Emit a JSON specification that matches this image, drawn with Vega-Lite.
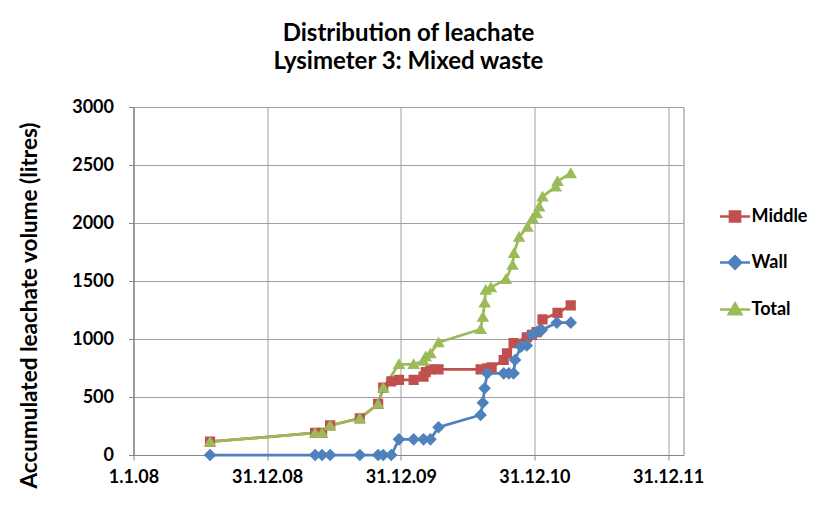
{
  "$schema": "https://vega.github.io/schema/vega-lite/v6.json",
  "width": 550,
  "height": 348,
  "autosize": {"type": "none"},
  "padding": {"left": 133.5, "top": 107, "right": 149.5, "bottom": 53},
  "background": "white",
  "title": {
    "text": ["Distribution of leachate", "Lysimeter 3: Mixed waste"],
    "font": "Lato",
    "fontSize": 24,
    "fontWeight": "bold",
    "color": "#000000",
    "anchor": "middle",
    "frame": "group",
    "lineHeight": 28,
    "offset": 24
  },
  "data": {
    "values": [
      {"date": "2008-07-28", "series": "Middle", "value": 115},
      {"date": "2009-05-11", "series": "Middle", "value": 190},
      {"date": "2009-05-30", "series": "Middle", "value": 190},
      {"date": "2009-06-21", "series": "Middle", "value": 255},
      {"date": "2009-09-10", "series": "Middle", "value": 316},
      {"date": "2009-10-30", "series": "Middle", "value": 440},
      {"date": "2009-11-13", "series": "Middle", "value": 580},
      {"date": "2009-12-05", "series": "Middle", "value": 635},
      {"date": "2009-12-26", "series": "Middle", "value": 647},
      {"date": "2010-02-04", "series": "Middle", "value": 647},
      {"date": "2010-03-03", "series": "Middle", "value": 675},
      {"date": "2010-03-09", "series": "Middle", "value": 715},
      {"date": "2010-03-22", "series": "Middle", "value": 739},
      {"date": "2010-04-13", "series": "Middle", "value": 739},
      {"date": "2010-08-06", "series": "Middle", "value": 739},
      {"date": "2010-08-24", "series": "Middle", "value": 747},
      {"date": "2010-09-05", "series": "Middle", "value": 755},
      {"date": "2010-10-08", "series": "Middle", "value": 819},
      {"date": "2010-10-17", "series": "Middle", "value": 876},
      {"date": "2010-11-04", "series": "Middle", "value": 965},
      {"date": "2010-12-10", "series": "Middle", "value": 1015},
      {"date": "2010-12-24", "series": "Middle", "value": 1035},
      {"date": "2011-01-06", "series": "Middle", "value": 1060},
      {"date": "2011-01-22", "series": "Middle", "value": 1170},
      {"date": "2011-03-04", "series": "Middle", "value": 1225},
      {"date": "2011-04-09", "series": "Middle", "value": 1290},

      {"date": "2008-07-28", "series": "Wall", "value": 0},
      {"date": "2009-05-11", "series": "Wall", "value": 0},
      {"date": "2009-05-30", "series": "Wall", "value": 0},
      {"date": "2009-06-21", "series": "Wall", "value": 0},
      {"date": "2009-09-10", "series": "Wall", "value": 0},
      {"date": "2009-10-30", "series": "Wall", "value": 0},
      {"date": "2009-11-13", "series": "Wall", "value": 0},
      {"date": "2009-12-05", "series": "Wall", "value": 0},
      {"date": "2009-12-26", "series": "Wall", "value": 135},
      {"date": "2010-02-04", "series": "Wall", "value": 135},
      {"date": "2010-03-03", "series": "Wall", "value": 135},
      {"date": "2010-03-22", "series": "Wall", "value": 135},
      {"date": "2010-04-13", "series": "Wall", "value": 239},
      {"date": "2010-08-06", "series": "Wall", "value": 345},
      {"date": "2010-08-12", "series": "Wall", "value": 451},
      {"date": "2010-08-17", "series": "Wall", "value": 575},
      {"date": "2010-08-24", "series": "Wall", "value": 704},
      {"date": "2010-10-08", "series": "Wall", "value": 704},
      {"date": "2010-10-22", "series": "Wall", "value": 704},
      {"date": "2010-11-04", "series": "Wall", "value": 704},
      {"date": "2010-11-08", "series": "Wall", "value": 819},
      {"date": "2010-11-24", "series": "Wall", "value": 934},
      {"date": "2010-12-10", "series": "Wall", "value": 945},
      {"date": "2010-12-24", "series": "Wall", "value": 1034},
      {"date": "2011-01-06", "series": "Wall", "value": 1063},
      {"date": "2011-01-20", "series": "Wall", "value": 1078},
      {"date": "2011-03-02", "series": "Wall", "value": 1141},
      {"date": "2011-04-09", "series": "Wall", "value": 1141},

      {"date": "2008-07-28", "series": "Total", "value": 115},
      {"date": "2009-05-11", "series": "Total", "value": 190},
      {"date": "2009-05-30", "series": "Total", "value": 190},
      {"date": "2009-06-21", "series": "Total", "value": 255},
      {"date": "2009-09-10", "series": "Total", "value": 316},
      {"date": "2009-10-30", "series": "Total", "value": 440},
      {"date": "2009-11-13", "series": "Total", "value": 580},
      {"date": "2009-12-26", "series": "Total", "value": 782},
      {"date": "2010-02-04", "series": "Total", "value": 782},
      {"date": "2010-03-03", "series": "Total", "value": 810},
      {"date": "2010-03-09", "series": "Total", "value": 850},
      {"date": "2010-03-22", "series": "Total", "value": 876},
      {"date": "2010-04-13", "series": "Total", "value": 970},
      {"date": "2010-08-06", "series": "Total", "value": 1084},
      {"date": "2010-08-12", "series": "Total", "value": 1190},
      {"date": "2010-08-17", "series": "Total", "value": 1314},
      {"date": "2010-08-20", "series": "Total", "value": 1422},
      {"date": "2010-09-03", "series": "Total", "value": 1445},
      {"date": "2010-10-14", "series": "Total", "value": 1515},
      {"date": "2010-11-01", "series": "Total", "value": 1638},
      {"date": "2010-11-05", "series": "Total", "value": 1739},
      {"date": "2010-11-19", "series": "Total", "value": 1880},
      {"date": "2010-12-12", "series": "Total", "value": 1965},
      {"date": "2010-12-26", "series": "Total", "value": 2040},
      {"date": "2011-01-06", "series": "Total", "value": 2083},
      {"date": "2011-01-13", "series": "Total", "value": 2141},
      {"date": "2011-01-22", "series": "Total", "value": 2227},
      {"date": "2011-02-27", "series": "Total", "value": 2313},
      {"date": "2011-03-04", "series": "Total", "value": 2360},
      {"date": "2011-04-09", "series": "Total", "value": 2428}
    ]
  },
  "encoding": {
    "x": {
      "field": "date",
      "type": "temporal",
      "scale": {
        "type": "utc",
        "domain": [
          {"year": 2008, "month": 1, "date": 1, "utc": true},
          {"year": 2012, "month": 2, "date": 11, "utc": true}
        ],
        "nice": false
      },
      "axis": {
        "title": null,
        "values": [
          {"year": 2008, "month": 1, "date": 1, "utc": true},
          {"year": 2008, "month": 12, "date": 31, "utc": true},
          {"year": 2009, "month": 12, "date": 31, "utc": true},
          {"year": 2010, "month": 12, "date": 31, "utc": true},
          {"year": 2011, "month": 12, "date": 31, "utc": true}
        ],
        "labelExpr": "utcFormat(datum.value, '%-d.%-m.%y')",
        "labelPadding": 8,
        "labelFlush": false,
        "labelOverlap": false
      }
    },
    "y": {
      "field": "value",
      "type": "quantitative",
      "scale": {"domain": [0, 3000], "nice": false, "zero": true},
      "axis": {
        "title": "Accumulated leachate volume (litres)",
        "values": [0, 500, 1000, 1500, 2000, 2500, 3000],
        "format": "d",
        "labelPadding": 15,
        "titleX": -104,
        "titleY": 198,
        "titleAlign": "center",
        "titleBaseline": "middle",
        "titleAngle": 270
      }
    },
    "color": {
      "field": "series",
      "type": "nominal",
      "scale": {
        "domain": ["Middle", "Wall", "Total"],
        "range": ["#C0504D", "#4F81BD", "#9BBB59"]
      },
      "legend": {
        "title": null,
        "orient": "none",
        "legendX": 585,
        "legendY": 93,
        "symbolSize": 900,
        "symbolStrokeWidth": 2.5,
        "labelFont": "Lato",
        "labelFontSize": 18,
        "labelFontWeight": "bold",
        "labelColor": "#000000",
        "labelOffset": 0,
        "rowPadding": 19,
        "encode": {
          "symbols": {
            "update": {
              "stroke": {"scale": "color", "field": "value"},
              "strokeWidth": {"value": 2.5}
            }
          }
        }
      }
    }
  },
  "layer": [
    {
      "mark": {"type": "line", "strokeWidth": 2.75}
    },
    {
      "mark": {"type": "point", "filled": true, "size": 900, "opacity": 1, "strokeWidth": 0},
      "encoding": {
        "shape": {
          "field": "series",
          "type": "nominal",
          "scale": {
            "domain": ["Middle", "Wall", "Total"],
            "range": [
              "M-1,0H1M-0.34,-0.34H0.34V0.34H-0.34Z",
              "M-1,0H1M0,-0.42L0.42,0L0,0.42L-0.42,0Z",
              "M-1,0H1M0,-0.4L0.42,0.32L-0.42,0.32Z"
            ]
          }
        }
      }
    }
  ],
  "config": {
    "font": "Lato",
    "view": {"stroke": "#868686", "strokeWidth": 1},
    "axis": {
      "labelFont": "Lato",
      "labelFontSize": 18,
      "labelFontWeight": "bold",
      "labelColor": "#000000",
      "titleFont": "Lato",
      "titleFontSize": 22.5,
      "titleFontWeight": "bold",
      "titleColor": "#000000",
      "gridColor": "#a0a0a0",
      "gridWidth": 1,
      "gridOpacity": 1,
      "domainColor": "#868686",
      "domainWidth": 1,
      "tickColor": "#868686",
      "tickSize": 5,
      "grid": true
    }
  }
}
